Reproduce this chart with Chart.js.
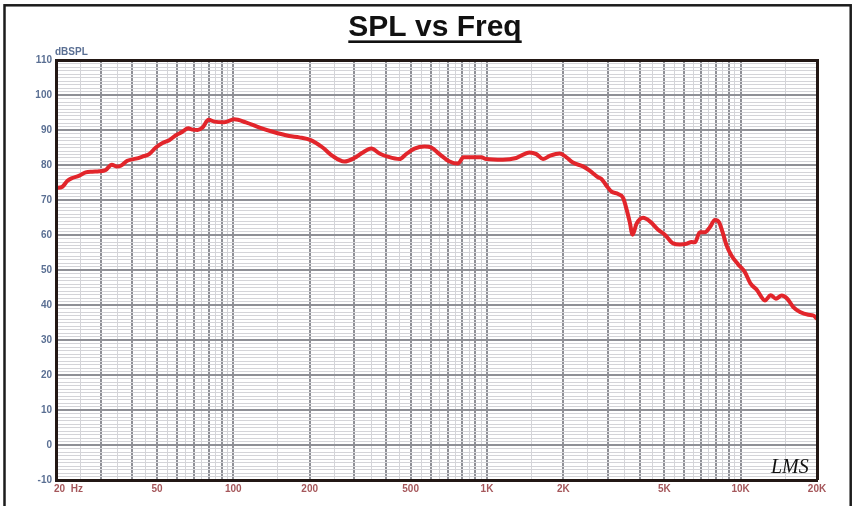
<!DOCTYPE html>
<html><head><meta charset="utf-8">
<script src="https://cdn.jsdelivr.net/npm/chart.js@4.4.1/dist/chart.umd.min.js"></script>
<style>html,body{margin:0;padding:0;background:#fff;overflow:hidden}canvas{display:block}</style>
</head><body>
<canvas id="c" width="853" height="506"></canvas>
<script>
const freqHz = [20, 21.2, 22.2, 23.2, 24.6, 26.2, 27.8, 29.6, 31.4, 33.2,
  34.6, 36, 38.2, 41.3, 43.8, 46.6, 49.5, 52.6, 55.9, 59.4,
  63, 66.4, 69, 72.3, 75.6, 79.9, 84.1, 92.1, 100.9, 112,
  127, 143, 166, 182, 202, 225, 246, 274, 300, 324,
  350, 377, 406, 452, 480, 518, 567, 603, 650, 712,
  768, 809, 880, 950, 994, 1155, 1305, 1473, 1566, 1663,
  1767, 1934, 2056, 2183, 2391, 2541, 2741, 2827, 2958, 3096,
  3288, 3441, 3549, 3657, 3748, 3887, 4126, 4385, 4730, 5025,
  5420, 5761, 6122, 6406, 6601, 6907, 7228, 7563, 7915, 8230,
  8488, 8803, 9211, 9782, 10390, 10944, 11560, 12470, 13130, 13780,
  14510, 15270, 16130, 17140, 18480, 19340, 20000];
const splDb = [73.4, 73.8, 75.5, 76.3, 76.9, 77.9, 78.1, 78.2, 78.6, 80.1,
  79.6, 79.8, 81.2, 81.8, 82.4, 83.1, 85.0, 86.3, 87.1, 88.5,
  89.5, 90.5, 90.1, 90.0, 90.7, 92.9, 92.4, 92.2, 93.1, 92.2,
  90.7, 89.5, 88.3, 87.9, 87.1, 85.0, 82.6, 81.0, 82.0, 83.6,
  84.7, 83.3, 82.4, 81.7, 83.1, 84.7, 85.3, 85.0, 83.1, 81.0,
  80.4, 82.2, 82.2, 82.2, 81.7, 81.5, 82.0, 83.6, 83.1, 81.7,
  82.6, 83.3, 82.2, 80.7, 79.6, 78.4, 76.5, 76.0, 74.1, 72.4,
  71.7, 70.6, 67.4, 63.6, 60.1, 63.2, 64.9, 63.9, 61.5, 60.1,
  57.6, 57.3, 57.5, 58.0, 57.9, 60.8, 60.8, 62.2, 64.3, 63.6,
  60.8, 57.0, 54.1, 51.6, 49.4, 46.1, 44.4, 41.3, 42.8, 41.8,
  42.7, 41.8, 39.4, 38.0, 37.2, 37.0, 36.1];

const xTickValues = [20, 50, 100, 200, 500, 1000, 2000, 5000, 10000, 20000];
const xTickLabels = ['20  Hz', '50', '100', '200', '500', '1K', '2K', '5K', '10K', '20K'];
const yTickValues = [-10, 0, 10, 20, 30, 40, 50, 60, 70, 80, 90, 100, 110];
const xMajorGrid = [20, 30, 40, 50, 60, 70, 80, 90, 100, 200, 300, 400, 500, 600, 700, 800, 900,
  1000, 2000, 3000, 4000, 5000, 6000, 7000, 8000, 9000, 10000, 20000];
const xMinorGrid = [25, 35, 45, 55, 65, 75, 85, 95, 150, 250, 350, 450, 550, 650, 750, 850, 950,
  1500, 2500, 3500, 4500, 5500, 6500, 7500, 8500, 9500, 15000];
const titleText = 'SPL vs Freq';
const yUnitLabel = 'dBSPL';
const logoText = 'LMS';

const FONT = "'Liberation Sans', Arial, sans-serif";
const FRAME = '#231815';
const GRID_DARK = '#8f9096';
const GRID_LIGHT = '#d4d4d8';
const majorSet = new Set(xMajorGrid);
const xGridValues = xMajorGrid.concat(xMinorGrid).sort((a, b) => a - b);

const decor = {
  id: 'decor',
  beforeDraw(chart) {
    const ctx = chart.ctx;
    ctx.save();
    ctx.fillStyle = '#fff';
    ctx.fillRect(0, 0, chart.width, chart.height);
    ctx.restore();
  },
  afterDraw(chart) {
    const ctx = chart.ctx, ca = chart.chartArea;
    ctx.save();
    ctx.strokeStyle = '#1c1c1c';
    ctx.lineWidth = 2.5;
    ctx.strokeRect(4.5, 5.3, 846.2, 600);
    const tb = chart.titleBlock;
    ctx.font = 'bold 30px ' + FONT;
    const w = ctx.measureText(titleText).width;
    const cx = (tb.left + tb.right) / 2;
    ctx.fillStyle = '#111';
    ctx.fillRect(cx - w / 2, 40.4, w, 2.6);
    ctx.font = 'bold 10px ' + FONT;
    ctx.fillStyle = '#5a6f93';
    ctx.textAlign = 'left';
    ctx.textBaseline = 'alphabetic';
    ctx.fillText(yUnitLabel, ca.left - 1, ca.top - 5);
    ctx.font = 'italic 20px "Liberation Serif", serif';
    ctx.fillStyle = '#111';
    ctx.fillText(logoText, ca.right - 46, ca.bottom - 7);
    ctx.restore();
  }
};

new Chart(document.getElementById('c'), {
  type: 'line',
  data: {
    datasets: [{
      data: freqHz.map((f, i) => ({ x: f, y: splDb[i] })),
      borderColor: '#e2252b',
      borderWidth: 4,
      pointRadius: 0,
      fill: false,
      cubicInterpolationMode: 'monotone',
      borderCapStyle: 'round',
      borderJoinStyle: 'round',
      xAxisID: 'x',
      yAxisID: 'y'
    }]
  },
  options: {
    responsive: false,
    animation: false,
    devicePixelRatio: 1,
    layout: { padding: { left: 17, right: 0, top: 0, bottom: 0 } },
    plugins: {
      legend: { display: false },
      tooltip: { enabled: false },
      title: {
        display: true,
        text: titleText,
        color: '#111',
        font: { family: FONT, size: 30, weight: 'bold', lineHeight: 1.2 },
        padding: { top: 10, bottom: 14 }
      }
    },
    scales: {
      x: {
        type: 'logarithmic',
        position: 'bottom',
        min: 20,
        max: 20000,
        afterFit: s => { s.height = 26; },
        afterBuildTicks: s => { s.ticks = xGridValues.map(v => ({ value: v })); },
        ticks: {
          autoSkip: false,
          maxRotation: 0,
          minRotation: 0,
          padding: 3,
          color: '#a5575b',
          font: { family: FONT, size: 10, weight: 'bold' },
          callback: v => {
            const i = xTickValues.indexOf(v);
            if (i < 0) return '';
            return i === 0 ? '         ' + xTickLabels[0] : xTickLabels[i];
          }
        },
        grid: {
          drawTicks: false,
          color: c => (c.tick && majorSet.has(c.tick.value)) ? GRID_DARK : GRID_LIGHT,
          lineWidth: c => (c.tick && majorSet.has(c.tick.value)) ? 2 : 1
        },
        border: { color: FRAME, width: 3, z: 1 }
      },
      x2: {
        type: 'logarithmic',
        position: 'top',
        min: 20,
        max: 20000,
        afterFit: s => { s.height = 0; },
        ticks: { display: false },
        grid: { drawTicks: false, lineWidth: 0 },
        border: { color: FRAME, width: 3, z: 1 }
      },
      y: {
        type: 'linear',
        position: 'left',
        min: -10,
        max: 110,
        afterFit: s => { s.width = 39; },
        ticks: {
          stepSize: 1,
          autoSkip: false,
          padding: 4,
          color: '#5a6f93',
          font: { family: FONT, size: 10, weight: 'bold' },
          callback: v => yTickValues.includes(v) ? String(v) : ''
        },
        grid: {
          drawTicks: false,
          color: c => (c.tick && c.tick.value % 10 === 0) ? GRID_DARK : GRID_LIGHT,
          lineWidth: c => (c.tick && c.tick.value % 10 === 0) ? 2 : 1
        },
        border: { color: FRAME, width: 3, z: 1 }
      },
      y2: {
        type: 'linear',
        position: 'right',
        min: -10,
        max: 110,
        afterFit: s => { s.width = 36; },
        ticks: { display: false },
        grid: { drawTicks: false, lineWidth: 0 },
        border: { color: FRAME, width: 3, z: 1 }
      }
    }
  },
  plugins: [decor]
});
</script>
</body></html>
